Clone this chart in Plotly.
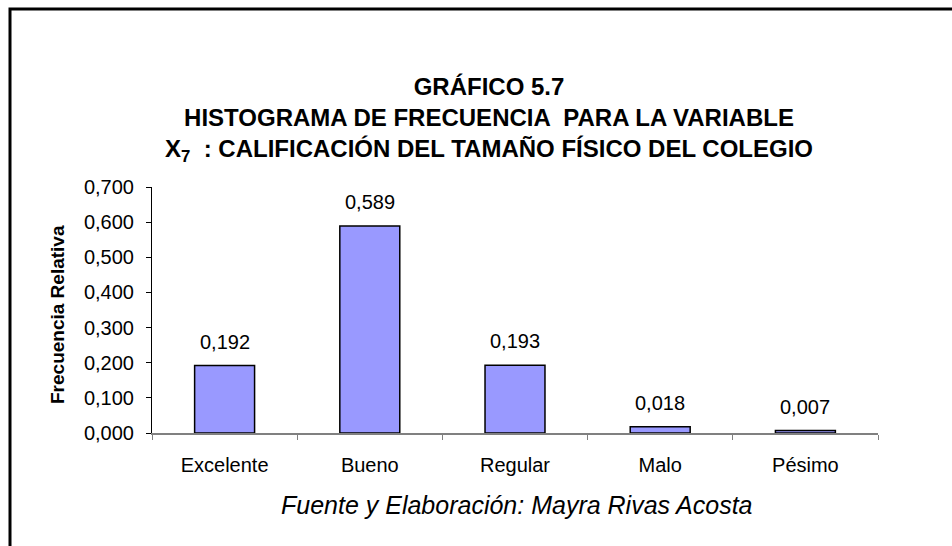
import plotly.graph_objects as go

# datos del gráfico
categorias = ["Excelente", "Bueno", "Regular", "Malo", "Pésimo"]
frecuencia_relativa = [0.192, 0.589, 0.193, 0.018, 0.007]
ticks_y = [0.0, 0.1, 0.2, 0.3, 0.4, 0.5, 0.6, 0.7]
titulo = [
    "GRÁFICO 5.7",
    "HISTOGRAMA DE FRECUENCIA  PARA LA VARIABLE",
    "X<sub>7</sub>  : CALIFICACIÓN DEL TAMAÑO FÍSICO DEL COLEGIO",
]

W, H = 952, 546
L, R, T, B = 152, 74, 187, 113
FONT = "Liberation Sans, Arial, sans-serif"


def px_x(px):
    # pixel horizontal -> coordenada paper
    return (px - L) / (W - L - R)


def px_y(py):
    # pixel vertical (desde arriba) -> coordenada paper
    return (H - B - py) / (H - T - B)


fig = go.Figure()

fig.add_trace(go.Bar(
    x=categorias,
    y=frecuencia_relativa,
    marker=dict(color="#9999FF", line=dict(color="black", width=1.5)),
    hoverinfo="skip",
))

# etiquetas de valor encima de cada barra
for c, v in zip(categorias, frecuencia_relativa):
    fig.add_annotation(
        x=c, y=v, text=f"{v:.3f}".replace(".", ","),
        showarrow=False, yanchor="middle", yshift=24,
        font=dict(family=FONT, size=20, color="black"),
    )

# titulo (tres lineas en un solo bloque)
fig.add_annotation(
    xref="paper", yref="paper", x=px_x(489), y=px_y(120),
    xanchor="center", yanchor="middle",
    text="<b>" + "<br>".join(titulo) + "</b>", showarrow=False,
    font=dict(family=FONT, size=24, color="black"),
)

# titulo del eje y
fig.add_annotation(
    xref="paper", yref="paper", x=px_x(57), y=px_y(315),
    xanchor="center", yanchor="middle",
    text="<b>Frecuencia Relativa</b>", textangle=-90, showarrow=False,
    font=dict(family=FONT, size=19, color="black"),
)

# fuente
fig.add_annotation(
    xref="paper", yref="paper", x=px_x(517), y=px_y(505),
    xanchor="center", yanchor="middle",
    text="<i>Fuente y Elaboración: Mayra Rivas Acosta</i>", showarrow=False,
    font=dict(family=FONT, size=25, color="black"),
)

# marco exterior
fig.add_shape(
    type="rect", xref="paper", yref="paper",
    x0=px_x(10), x1=px_x(990), y0=px_y(9), y1=px_y(600),
    line=dict(color="black", width=3), fillcolor="rgba(0,0,0,0)",
)

fig.update_layout(
    width=W, height=H,
    margin=dict(l=L, r=R, t=T, b=B),
    paper_bgcolor="white", plot_bgcolor="white",
    separators=",.",
    showlegend=False,
    bargap=0.587,
    font=dict(family=FONT, color="black"),
    xaxis=dict(
        showline=True, linecolor="#808080", linewidth=1.5,
        ticks="outside", tickson="boundaries", ticklen=5, tickcolor="#808080",
        tickfont=dict(family=FONT, size=20, color="black"),
        ticklabelstandoff=13,
        showgrid=False, zeroline=False,
    ),
    yaxis=dict(
        range=[0, 0.7], tickvals=ticks_y, tickformat=".3f",
        showline=True, linecolor="black", linewidth=1,
        ticks="outside", ticklen=5, tickcolor="black",
        tickfont=dict(family=FONT, size=20, color="black"),
        ticklabelstandoff=8,
        showgrid=False, zeroline=False,
    ),
)

# sin margen del body para que la figura empiece en (0, 0)
fig.write_html(
    "out.html",
    config={"displayModeBar": False},
    post_script="document.body.style.margin='0';",
)
